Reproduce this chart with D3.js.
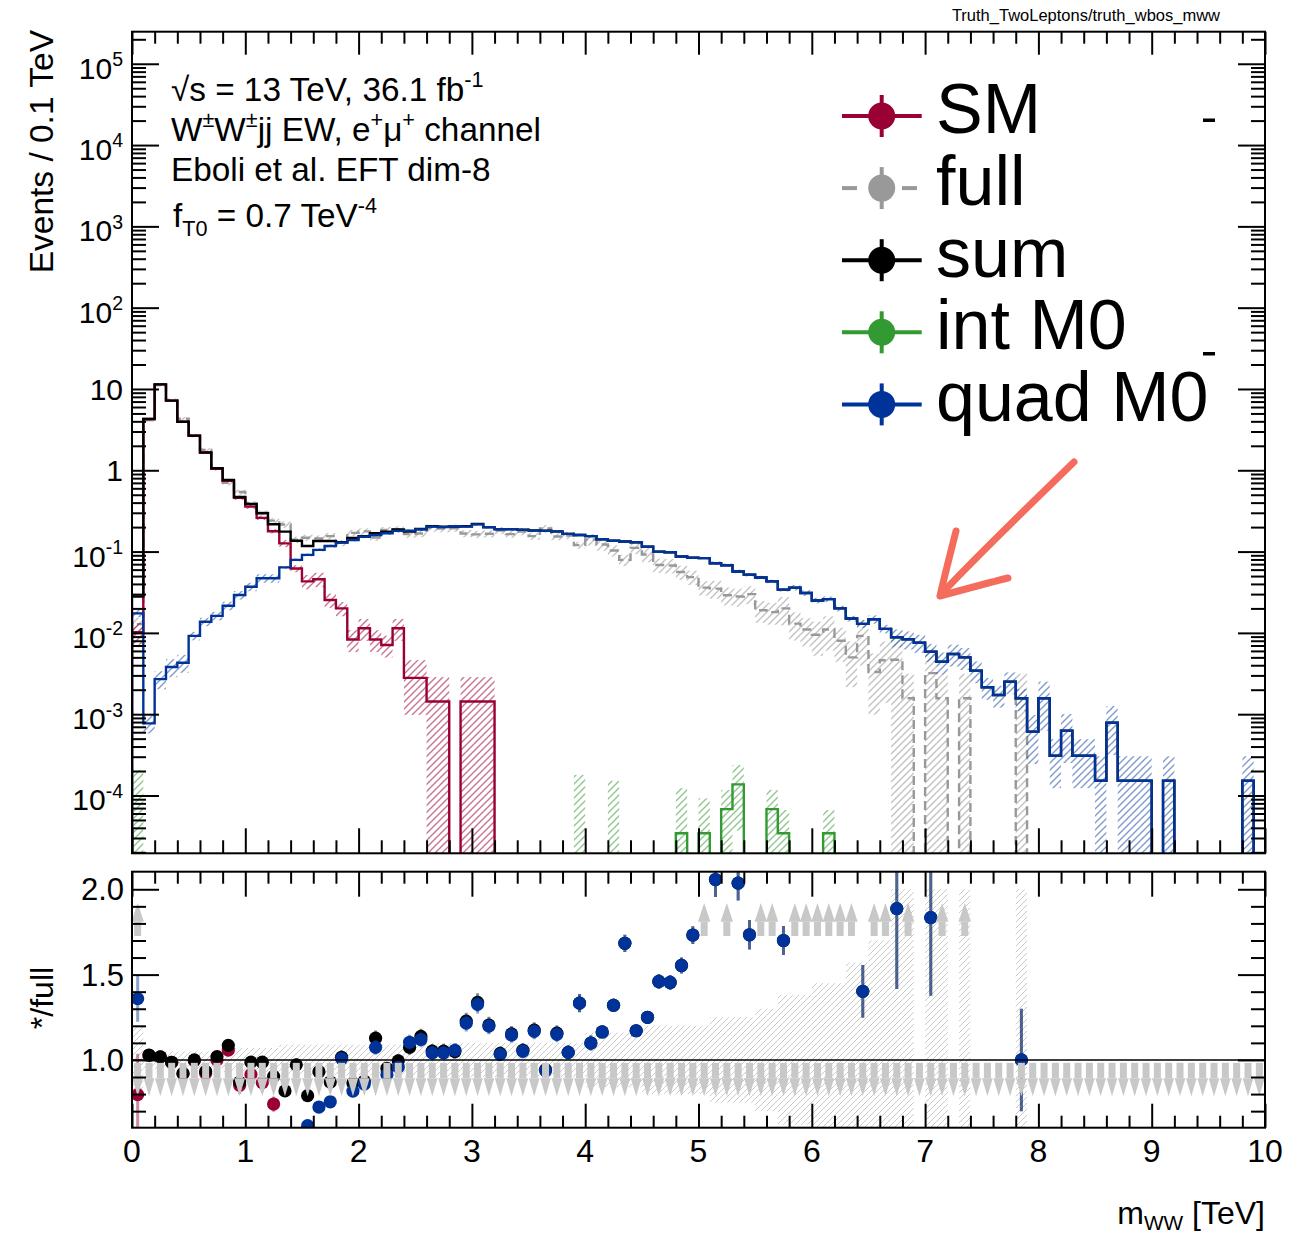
<!DOCTYPE html>
<html>
<head>
<meta charset="utf-8">
<script src="https://cdn.jsdelivr.net/npm/d3@7/dist/d3.min.js"></script>
<style>
  html,body{margin:0;padding:0;background:#fff;}
  svg{display:block;}
  text{font-family:"Liberation Sans",Arial,Helvetica,sans-serif;fill:#000;white-space:pre;}
</style>
</head>
<body>
<svg id="chart" width="1310" height="1235" xmlns="http://www.w3.org/2000/svg"></svg>
<script>
// ---------------- DATA (100 bins of 0.1 TeV, 0-10 TeV) ----------------
const nBins = 100;
const binEdges = d3.range(nBins + 1).map(i => i / 10);

const smVals = [
  0.0102, 4.27, 11.4, 7.2, 3.95, 2.66, 1.64, 1.04, 0.74, 0.46,
  0.357, 0.26, 0.178, 0.126, 0.062, 0.043, 0.0457, 0.0254, 0.020, 0.0083,
  0.0114, 0.0083, 0.0071, 0.0114, 0.0028, 0.0028, 0.00143, 0.00143, 0, 0.00143,
  0.00143, 0.00143, 0, 0, 0, 0, 0, 0, 0, 0,
  0, 0, 0, 0, 0, 0, 0, 0, 0, 0,
  0, 0, 0, 0, 0, 0, 0, 0, 0, 0,
  0, 0, 0, 0, 0, 0, 0, 0, 0, 0,
  0, 0, 0, 0, 0, 0, 0, 0, 0, 0,
  0, 0, 0, 0, 0, 0, 0, 0, 0, 0,
  0, 0, 0, 0, 0, 0, 0, 0, 0, 0];

const fullVals = [
  0.0128, 4.16, 11.2, 7.3, 4.3, 2.67, 1.78, 1.04, 0.70, 0.54,
  0.39, 0.30, 0.24, 0.215, 0.14, 0.148, 0.145, 0.155, 0.128, 0.17,
  0.177, 0.149, 0.184, 0.188, 0.164, 0.167, 0.195, 0.192, 0.194, 0.167,
  0.163, 0.166, 0.182, 0.164, 0.176, 0.155, 0.192, 0.153, 0.158, 0.12,
  0.141, 0.122, 0.103, 0.079, 0.111, 0.092, 0.0685, 0.0674, 0.056, 0.0485,
  0.036, 0.035, 0.029, 0.028, 0.030, 0.019, 0.018, 0.020, 0.013, 0.011,
  0.0095, 0.011, 0.008, 0.005, 0.0092, 0.0033, 0.0046, 0.00468, 0.00157, 0,
  0.0032, 0.00157, 0, 0.00157, 0, 0, 0, 0, 0.00157, 0,
  0, 0, 0, 0, 0, 0, 0, 0, 0, 0,
  0, 0, 0, 0, 0, 0, 0, 0, 0, 0];

const sumVals = [
  0.028, 4.28, 11.4, 7.2, 3.96, 2.67, 1.66, 1.06, 0.76, 0.47,
  0.385, 0.296, 0.217, 0.176, 0.136, 0.117, 0.135, 0.135, 0.130, 0.147,
  0.155, 0.168, 0.175, 0.187, 0.176, 0.19, 0.205, 0.202, 0.2035, 0.205,
  0.218, 0.2, 0.189, 0.189, 0.186, 0.182, 0.181, 0.177, 0.165, 0.16,
  0.155, 0.142, 0.136, 0.133, 0.13, 0.115, 0.1, 0.098, 0.087, 0.084,
  0.083, 0.072, 0.068, 0.057, 0.052, 0.048, 0.043, 0.034, 0.036, 0.031,
  0.025, 0.026, 0.02, 0.015, 0.0129, 0.0147, 0.0112, 0.00883, 0.00834, 0.00757,
  0.00587, 0.00442, 0.0055, 0.005, 0.00343, 0.00214, 0.00172, 0.00251, 0.00157, 0.00061,
  0.00157, 0.000308, 0.000627, 0.000308, 0.000308, 0.000152, 0.000786, 0.000152, 0.000152, 0.000152,
  0, 0.000152, 0, 0, 0, 0, 0, 0, 0.000152, 0];

const intVals = [
  0, 0, 0, 0, 0, 0, 0, 0, 0, 0,
  0, 0, 0, 0, 0, 0, 0, 0, 0, 0,
  0, 0, 0, 0, 0, 0, 0, 0, 0, 0,
  0, 0, 0, 0, 0, 0, 0, 0, 0, 0,
  0, 0, 0, 0, 0, 0, 0, 0, 3.43e-5, 0,
  3.43e-5, 0, 6.8e-5, 1.37e-4, 0, 0, 6.8e-5, 3.43e-5, 0, 0,
  0, 3.43e-5, 0, 0, 0, 0, 0, 0, 0, 0,
  0, 0, 0, 0, 0, 0, 0, 0, 0, 0,
  0, 0, 0, 0, 0, 0, 0, 0, 0, 0,
  0, 0, 0, 0, 0, 0, 0, 0, 0, 0];

const quadVals = [
  0.0174, 0.00077, 0.0027, 0.0038, 0.0043, 0.0092, 0.0137, 0.0162, 0.0216, 0.0292,
  0.037, 0.047, 0.047, 0.064, 0.079, 0.091, 0.105, 0.117, 0.129, 0.139,
  0.152, 0.16, 0.168, 0.18, 0.181, 0.187, 0.203, 0.2, 0.205, 0.203,
  0.216, 0.199, 0.188, 0.188, 0.185, 0.181, 0.18, 0.176, 0.165, 0.16,
  0.155, 0.142, 0.136, 0.133, 0.13, 0.115, 0.1, 0.098, 0.087, 0.084,
  0.083, 0.072, 0.068, 0.057, 0.052, 0.048, 0.043, 0.034, 0.036, 0.031,
  0.025, 0.026, 0.02, 0.015, 0.0129, 0.0147, 0.0112, 0.00883, 0.00834, 0.00757,
  0.00587, 0.00442, 0.0055, 0.005, 0.00343, 0.00214, 0.00172, 0.00251, 0.00157, 0.00061,
  0.00157, 0.000308, 0.000627, 0.000308, 0.000308, 0.000152, 0.000786, 0.000152, 0.000152, 0.000152,
  0, 0.000152, 0, 0, 0, 0, 0, 0, 0.000152, 0];

// relative statistical uncertainties (hatched bands / ratio error bars)
const smRelErr = [
  0.3, 0.03, 0.03, 0.03, 0.03, 0.03, 0.03, 0.03, 0.03, 0.06,
  0.06, 0.06, 0.06, 0.1, 0.1, 0.2, 0.2, 0.2, 0.2, 0.3,
  0.3, 0.3, 0.3, 0.3, 0.65, 0.65, 1, 1, 0, 1,
  1, 1, 0, 0, 0, 0, 0, 0, 0, 0,
  0, 0, 0, 0, 0, 0, 0, 0, 0, 0,
  0, 0, 0, 0, 0, 0, 0, 0, 0, 0,
  0, 0, 0, 0, 0, 0, 0, 0, 0, 0,
  0, 0, 0, 0, 0, 0, 0, 0, 0, 0,
  0, 0, 0, 0, 0, 0, 0, 0, 0, 0,
  0, 0, 0, 0, 0, 0, 0, 0, 0, 0];

const fullRelErr = [
  0.2, 0.05, 0.05, 0.05, 0.05, 0.05, 0.05, 0.05, 0.07, 0.07,
  0.07, 0.07, 0.07, 0.09, 0.09, 0.09, 0.09, 0.09, 0.09, 0.09,
  0.09, 0.09, 0.09, 0.09, 0.1, 0.1, 0.1, 0.1, 0.1, 0.1,
  0.1, 0.1, 0.1, 0.1, 0.1, 0.1, 0.1, 0.1, 0.1, 0.1,
  0.16, 0.16, 0.16, 0.16, 0.16, 0.2, 0.2, 0.2, 0.2, 0.2,
  0.2, 0.25, 0.25, 0.25, 0.25, 0.3, 0.3, 0.38, 0.38, 0.38,
  0.45, 0.45, 0.45, 0.57, 0.57, 0.7, 0.7, 1, 1, 0,
  1, 1, 0, 1, 0, 0, 0, 0, 1, 0,
  0, 0, 0, 0, 0, 0, 0, 0, 0, 0,
  0, 0, 0, 0, 0, 0, 0, 0, 0, 0];

const sumRelErr = [
  0.1, 0.03, 0.03, 0.03, 0.03, 0.03, 0.03, 0.03, 0.03, 0.03,
  0.03, 0.03, 0.03, 0.04, 0.04, 0.04, 0.04, 0.04, 0.04, 0.04,
  0.04, 0.04, 0.04, 0.04, 0.04, 0.04, 0.04, 0.04, 0.04, 0.04,
  0.04, 0.04, 0.04, 0.04, 0.04, 0.04, 0.04, 0.04, 0.04, 0.04,
  0.04, 0.03, 0.03, 0.03, 0.03, 0.03, 0.03, 0.03, 0.03, 0.03,
  0.03, 0.05, 0.05, 0.05, 0.05, 0.05, 0.05, 0.05, 0.08, 0.08,
  0.08, 0.08, 0.08, 0.08, 0.11, 0.12, 0.12, 0.25, 0.25, 0.25,
  0.25, 0.3, 0.3, 0.3, 0.3, 0.3, 0.3, 0.3, 0.3, 0.6,
  0.6, 0.6, 0.6, 0.6, 0.6, 1, 0.6, 1, 1, 1,
  0, 1, 0, 0, 0, 0, 0, 0, 1, 0];

const quadRelErr = [
  0.1, 0.25, 0.25, 0.25, 0.25, 0.12, 0.12, 0.12, 0.12, 0.12,
  0.12, 0.12, 0.12, 0.04, 0.04, 0.04, 0.04, 0.04, 0.04, 0.04,
  0.04, 0.04, 0.04, 0.04, 0.04, 0.04, 0.04, 0.04, 0.04, 0.04,
  0.04, 0.04, 0.04, 0.04, 0.04, 0.04, 0.04, 0.04, 0.04, 0.04,
  0.04, 0.03, 0.03, 0.03, 0.03, 0.03, 0.03, 0.03, 0.03, 0.03,
  0.03, 0.05, 0.05, 0.05, 0.05, 0.05, 0.05, 0.05, 0.08, 0.08,
  0.08, 0.08, 0.08, 0.08, 0.11, 0.12, 0.12, 0.25, 0.25, 0.25,
  0.25, 0.3, 0.3, 0.3, 0.3, 0.3, 0.3, 0.3, 0.3, 0.6,
  0.6, 0.6, 0.6, 0.6, 0.6, 1, 0.6, 1, 1, 1,
  0, 1, 0, 0, 0, 0, 0, 0, 1, 0];

// absolute uncertainty of the interference term
const intAbsErr = [
  2.06e-4, 0, 0, 0, 0, 0, 0, 0, 0, 0,
  0, 0, 0, 0, 0, 0, 0, 0, 0, 0,
  0, 0, 0, 0, 0, 0, 0, 0, 0, 0,
  0, 0, 0, 0, 0, 0, 0, 0, 0, 1.79e-4,
  0, 0, 1.52e-4, 0, 0, 0, 0, 0, 8.9e-5, 0,
  5.8e-5, 0, 4.9e-5, 1.0e-4, 0, 0, 4.9e-5, 3.2e-5, 0, 0,
  0, 3.2e-5, 0, 0, 0, 0, 0, 0, 0, 0,
  0, 0, 0, 0, 0, 0, 0, 0, 0, 0,
  0, 0, 0, 0, 0, 0, 0, 0, 0, 0,
  0, 0, 0, 0, 0, 0, 0, 0, 0, 0];

const legendNames = ["SM", "full", "sum", "int M0", "quad M0"];
const seriesColors = {SM: "#990033", full: "#999999", sum: "#000000", int: "#339933", quad: "#003399"};
const xTickValues = [0, 1, 2, 3, 4, 5, 6, 7, 8, 9, 10];
const yTickExponents = [-4, -3, -2, -1, 0, 1, 2, 3, 4, 5];
const ratioTickValues = [1.0, 1.5, 2.0];
const ratioTickLabels = ["1.0", "1.5", "2.0"];

// ---------------- LAYOUT ----------------
const X0 = 132, X1 = 1265;
const T0 = 31.7, T1 = 853.3;      // upper pad frame
const R0 = 871.7, R1 = 1127.7;    // ratio pad frame
const yMin = 1.945e-5, yMax = 2.48e5;
const rMin = 0.603, rMax = 2.103;

const x = d3.scaleLinear().domain([0, 10]).range([X0, X1]);
const y = d3.scaleLog().domain([yMin, yMax]).range([T1, T0]);
const yr = d3.scaleLinear().domain([rMin, rMax]).range([R1, R0]);

const svg = d3.select("#chart");
svg.append("rect").attr("width", 1310).attr("height", 1235).attr("fill", "#fff");
const defs = svg.append("defs");
defs.append("clipPath").attr("id", "clipTop").append("rect")
  .attr("x", X0).attr("y", T0).attr("width", X1 - X0).attr("height", T1 - T0);
defs.append("clipPath").attr("id", "clipRat").append("rect")
  .attr("x", X0).attr("y", R0).attr("width", X1 - X0).attr("height", R1 - R0);

function makeHatch(id, color, op, size, sw) {
  const p = defs.append("pattern").attr("id", id).attr("patternUnits", "userSpaceOnUse")
    .attr("width", size).attr("height", size);
  p.append("path")
    .attr("d", `M${-size/2},${size/2} L${size/2},${-size/2} M0,${size} L${size},0 M${size/2},${size*1.5} L${size*1.5},${size/2}`)
    .attr("stroke", color).attr("stroke-opacity", op).attr("stroke-width", sw).attr("fill", "none");
}
makeHatch("hSM", seriesColors.SM, 0.55, 7, 1.4);
makeHatch("hFull", "#9a9a9a", 0.6, 7, 1.4);
makeHatch("hInt", seriesColors.int, 0.55, 7, 1.4);
makeHatch("hQuad", seriesColors.quad, 0.5, 7, 1.4);
makeHatch("hRatio", "#bdbdbd", 0.8, 6, 1.0);

// ---------------- UPPER PAD ----------------
const gTop = svg.append("g").attr("clip-path", "url(#clipTop)");

function drawBand(vals, absErr, pat) {
  vals.forEach((v, i) => {
    const e = absErr[i];
    if (!(e > 0)) return;
    const hi = v + e, lo = v - e;
    if (hi <= yMin) return;
    const yHi = y(Math.min(hi, yMax));
    const yLo = lo > yMin ? y(lo) : T1 + 2;
    gTop.append("rect").attr("x", x(binEdges[i])).attr("width", x(binEdges[i + 1]) - x(binEdges[i]))
      .attr("y", yHi).attr("height", Math.max(0, yLo - yHi)).attr("fill", `url(#${pat})`);
  });
}
function stepPath(vals) {
  const yc = v => v > yMin ? Math.max(y(Math.min(v, yMax)), T0) : T1 + 4;
  let d = `M${x(binEdges[0])},${T1 + 4}`;
  vals.forEach((v, i) => { d += `V${yc(v)}H${x(binEdges[i + 1])}`; });
  d += `V${T1 + 4}`;
  return d;
}
function drawLine(vals, color, dash) {
  gTop.append("path").attr("d", stepPath(vals)).attr("fill", "none")
    .attr("stroke", color).attr("stroke-width", 2.4)
    .attr("stroke-dasharray", dash || null);
}
const rel2abs = (vals, rel) => vals.map((v, i) => v * rel[i]);

drawBand(fullVals, rel2abs(fullVals, fullRelErr), "hFull");
drawLine(fullVals, seriesColors.full, "9,5");
drawBand(smVals, rel2abs(smVals, smRelErr), "hSM");
drawLine(smVals, seriesColors.SM);
drawLine(sumVals, seriesColors.sum);
drawBand(intVals, intAbsErr, "hInt");
drawLine(intVals, seriesColors.int);
drawBand(quadVals, rel2abs(quadVals, quadRelErr), "hQuad");
drawLine(quadVals, seriesColors.quad);

// ---------------- RATIO PAD ----------------
const gR = svg.append("g").attr("clip-path", "url(#clipRat)");
fullVals.forEach((f, i) => {
  if (!(f > 0) || !(fullRelErr[i] > 0)) return;
  const hi = Math.min(1 + fullRelErr[i], rMax + 0.05), lo = Math.max(1 - fullRelErr[i], rMin - 0.05);
  gR.append("rect").attr("x", x(binEdges[i])).attr("width", x(binEdges[i + 1]) - x(binEdges[i]))
    .attr("y", yr(hi)).attr("height", yr(lo) - yr(hi)).attr("fill", "url(#hRatio)");
});

const binCenters = d3.range(nBins).map(i => (binEdges[i] + binEdges[i + 1]) / 2);
const ratioSeries = [
  {vals: smVals, rel: smRelErr, color: seriesColors.SM},
  {vals: sumVals, rel: sumRelErr, color: seriesColors.sum},
  {vals: intVals, abs: intAbsErr, color: seriesColors.int},
  {vals: quadVals, rel: quadRelErr, color: seriesColors.quad}
];
const ratios = ratioSeries.map(s => s.vals.map((v, i) => fullVals[i] > 0 ? v / fullVals[i] : 0));

ratioSeries.forEach((s, k) => {
  const r = ratios[k];
  const g = gR.append("g");
  r.forEach((val, i) => {
    if (!(val >= rMin && val <= rMax)) return;
    const err = s.rel ? val * s.rel[i] : (fullVals[i] > 0 ? s.abs[i] / fullVals[i] : 0);
    const cx = x(binCenters[i]);
    if (err > 0) {
      g.append("line").attr("x1", cx).attr("x2", cx).attr("y1", yr(val + err)).attr("y2", yr(val - err))
        .attr("stroke", s.color).attr("stroke-opacity", 0.45).attr("stroke-width", 3);
    }
    g.append("circle").attr("cx", cx).attr("cy", yr(val)).attr("r", 6.6).attr("fill", s.color);
  });
});

gR.append("line").attr("x1", X0).attr("x2", X1).attr("y1", yr(1)).attr("y2", yr(1))
  .attr("stroke", "#000").attr("stroke-width", 1.6);

// off-scale arrows
const arrowColor = "#c8c8c8";
const binW = x(binEdges[1]) - x(binEdges[0]);
binCenters.forEach((c, i) => {
  const rs = ratios.map(r => r[i]);
  const cx = x(c);
  if (rs.some(v => v > rMax)) {
    gR.append("rect").attr("x", cx - 3.5).attr("width", 7).attr("y", yr(1.81)).attr("height", yr(1.726) - yr(1.81)).attr("fill", arrowColor);
    gR.append("path").attr("d", `M${cx - 6.2},${yr(1.81)} L${cx + 6.2},${yr(1.81)} L${cx},${yr(1.92)} Z`).attr("fill", arrowColor);
  }
  if (rs.some(v => v < rMin)) {
    gR.append("rect").attr("x", cx - 3.5).attr("width", 7).attr("y", yr(0.983)).attr("height", yr(0.893) - yr(0.983)).attr("fill", arrowColor);
    gR.append("path").attr("d", `M${cx - binW/2 + 0.3},${yr(0.893)} L${cx + binW/2 - 0.3},${yr(0.893)} L${cx},${yr(0.787)} Z`).attr("fill", arrowColor);
  }
});

// ---------------- AXES / FRAMES ----------------
function styleAxis(g) {
  g.select(".domain").remove();
  g.selectAll(".tick line").attr("stroke", "#000").attr("stroke-width", 2);
  g.selectAll(".tick text").remove();
}
const xMinor = d3.range(0, 51).map(i => i * 0.2).filter(v => Math.abs(v - Math.round(v)) > 1e-6);
const yMajor = yTickExponents.map(e => Math.pow(10, e));
const yMinor = [];
d3.range(-5, 6).forEach(e => d3.range(2, 10).forEach(m => { const v = m * Math.pow(10, e); if (v > yMin && v < yMax) yMinor.push(v); }));
const rMinor = d3.range(7, 21).map(i => i / 10).filter(v => ratioTickValues.every(t => Math.abs(t - v) > 1e-6));

function xTicks(yBottom, yTopEdge, majB, minB, majT, minT) {
  svg.append("g").attr("transform", `translate(0,${yBottom})`).call(d3.axisBottom(x).tickValues(xTickValues).tickSize(-majB).tickSizeOuter(0)).call(styleAxis);
  svg.append("g").attr("transform", `translate(0,${yBottom})`).call(d3.axisBottom(x).tickValues(xMinor).tickSize(-minB).tickSizeOuter(0)).call(styleAxis);
  svg.append("g").attr("transform", `translate(0,${yTopEdge})`).call(d3.axisTop(x).tickValues(xTickValues).tickSize(-majT).tickSizeOuter(0)).call(styleAxis);
  svg.append("g").attr("transform", `translate(0,${yTopEdge})`).call(d3.axisTop(x).tickValues(xMinor).tickSize(-minT).tickSizeOuter(0)).call(styleAxis);
}
xTicks(T1, T0, 25, 13, 23, 12);
xTicks(R1, R0, 24, 12, 25, 12);

[[yMajor, 27], [yMinor, 14]].forEach(([vals, len]) => {
  svg.append("g").attr("transform", `translate(${X0},0)`).call(d3.axisLeft(y).tickValues(vals).tickSize(-len).tickSizeOuter(0)).call(styleAxis);
  svg.append("g").attr("transform", `translate(${X1},0)`).call(d3.axisRight(y).tickValues(vals).tickSize(-len).tickSizeOuter(0)).call(styleAxis);
});
[[ratioTickValues, 27], [rMinor, 14]].forEach(([vals, len]) => {
  svg.append("g").attr("transform", `translate(${X0},0)`).call(d3.axisLeft(yr).tickValues(vals).tickSize(-len).tickSizeOuter(0)).call(styleAxis);
  svg.append("g").attr("transform", `translate(${X1},0)`).call(d3.axisRight(yr).tickValues(vals).tickSize(-len).tickSizeOuter(0)).call(styleAxis);
});

svg.append("rect").attr("x", X0).attr("y", T0).attr("width", X1 - X0).attr("height", T1 - T0)
  .attr("fill", "none").attr("stroke", "#000").attr("stroke-width", 2);
svg.append("rect").attr("x", X0).attr("y", R0).attr("width", X1 - X0).attr("height", R1 - R0)
  .attr("fill", "none").attr("stroke", "#000").attr("stroke-width", 2);

// ---------------- TEXT ----------------
function rich(sel, parts, size, subShift) {
  let shift = 0;
  parts.forEach(p => {
    const target = p.sup ? -0.42 * size : (p.sub ? (subShift || 0.26) * size : 0);
    sel.append("tspan").attr("dy", target - shift)
      .attr("font-size", (p.sup || p.sub) ? size * 0.65 : size).text(p.t);
    shift = target;
  });
  return sel;
}

// y tick labels (log)
yTickExponents.forEach(e => {
  const ty = y(Math.pow(10, e));
  const t = svg.append("text").attr("x", 123).attr("text-anchor", "end").attr("font-size", 30);
  if (e === 0) { t.attr("y", ty + 11).text("1"); }
  else if (e === 1) { t.attr("y", ty + 11).text("10"); }
  else { t.attr("y", ty + 15); rich(t, [{t: "10"}, {t: String(e), sup: true}], 30); }
});
// ratio tick labels
ratioTickValues.forEach((v, i) => {
  svg.append("text").attr("x", 124).attr("y", yr(v) + 11).attr("text-anchor", "end")
    .attr("font-size", 31).text(ratioTickLabels[i]);
});
// x tick labels
xTickValues.forEach(v => {
  svg.append("text").attr("x", x(v)).attr("y", 1162).attr("text-anchor", "middle")
    .attr("font-size", 32).text(String(v));
});
// axis titles
rich(svg.append("text").attr("x", X1).attr("y", 1224).attr("text-anchor", "end"),
  [{t: "m"}, {t: "WW", sub: true}, {t: " [TeV]"}], 32, 0.19);
svg.append("text").attr("transform", "translate(53,30) rotate(-90)").attr("text-anchor", "end")
  .attr("font-size", 33.5).text("Events / 0.1 TeV");
svg.append("text").attr("transform", "translate(53,998) rotate(-90)").attr("text-anchor", "middle")
  .attr("font-size", 32).text("*/full");

// header
svg.append("text").attr("x", 1220).attr("y", 21).attr("text-anchor", "end").attr("font-size", 16.5)
  .text("Truth_TwoLeptons/truth_wbos_mww");

// info text
const infoSize = 33.3;
rich(svg.append("text").attr("x", 171).attr("y", 101), [{t: "\u221As = 13 TeV, 36.1 fb"}, {t: "-1", sup: true}], infoSize);
rich(svg.append("text").attr("x", 171).attr("y", 141),
  [{t: "W"}, {t: "\u00B1", sup: true}, {t: "W"}, {t: "\u00B1", sup: true}, {t: "jj EW, e"}, {t: "+", sup: true}, {t: "\u03BC"}, {t: "+", sup: true}, {t: " channel"}], infoSize);
rich(svg.append("text").attr("x", 171).attr("y", 181), [{t: "Eboli et al. EFT dim-8"}], infoSize);
rich(svg.append("text").attr("x", 173).attr("y", 227),
  [{t: "f"}, {t: "T0", sub: true}, {t: " = 0.7 TeV"}, {t: "-4", sup: true}], infoSize);

// ---------------- LEGEND ----------------
const legendColorList = [seriesColors.SM, seriesColors.full, seriesColors.sum, seriesColors.int, seriesColors.quad];
legendNames.forEach((name, k) => {
  const cy = 116 + k * 72.1, cx = 881.7;
  const col = legendColorList[k];
  const g = svg.append("g");
  if (name === "full") {
    g.append("line").attr("x1", 842).attr("x2", 857).attr("y1", cy).attr("y2", cy).attr("stroke", col).attr("stroke-width", 4);
    g.append("line").attr("x1", 902).attr("x2", 917).attr("y1", cy).attr("y2", cy).attr("stroke", col).attr("stroke-width", 4);
  } else {
    g.append("line").attr("x1", 842).attr("x2", 921.7).attr("y1", cy).attr("y2", cy).attr("stroke", col).attr("stroke-width", 4);
  }
  g.append("line").attr("x1", cx).attr("x2", cx).attr("y1", cy - 21).attr("y2", cy + 21).attr("stroke", col).attr("stroke-width", 4);
  g.append("circle").attr("cx", cx).attr("cy", cy).attr("r", 13.5).attr("fill", col);
  g.append("text").attr("x", 936).attr("y", cy + 17).attr("font-size", 70).text(name);
});
// small stray marks from the original canvas
svg.append("rect").attr("x", 1203).attr("y", 118.5).attr("width", 12).attr("height", 3.5).attr("fill", "#000");
svg.append("rect").attr("x", 1203).attr("y", 352).attr("width", 12).attr("height", 3.5).attr("fill", "#000");

// ---------------- HAND-DRAWN ARROW ANNOTATION ----------------
const annot = svg.append("g").attr("stroke", "#f2604f").attr("stroke-width", 7)
  .attr("stroke-linecap", "round").attr("stroke-linejoin", "round").attr("fill", "none").attr("opacity", 0.92);
annot.append("path").attr("d", "M1074,462 C1040,495 985,548 946,589");
annot.append("path").attr("d", "M956,531 C950,555 944,578 940,596 C962,590 988,583 1008,578");
</script>
</body>
</html>
